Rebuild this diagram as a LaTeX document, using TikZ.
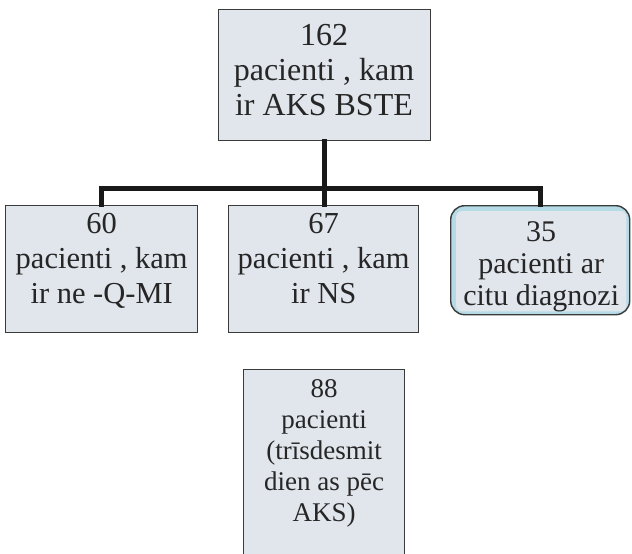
\documentclass[tikz,border=0pt]{standalone}
\usepackage{fontspec}
\setmainfont{Liberation Serif}
\definecolor{boxfill}{HTML}{E1E5EC}
\definecolor{boxline}{HTML}{3A3A3A}
\definecolor{band}{HTML}{B5DCE6}
\tikzset{
  box/.style={draw=boxline, line width=1.4pt, fill=boxfill, inner sep=0pt, minimum width=#1},
  txt/.style={anchor=north, align=center, inner sep=0pt, text=black!85},
  conn/.style={line width=4.8pt, black!90, line cap=rect}
}
\begin{document}
\begin{tikzpicture}[x=1pt,y=1pt]
\useasboundingbox (0,0) rectangle (632,-554);
\fill[white] (0,0) rectangle (632,-554);
% boxes
\node[box=212pt, minimum height=131pt, anchor=north west] (top) at (218,-9) {};
\node[box=192pt, minimum height=127pt, anchor=north west] (b60) at (5,-205) {};
\node[box=190pt, minimum height=127pt, anchor=north west] (b67) at (228,-205) {};
\node[draw=boxline, line width=1.4pt, fill=band, rounded corners=14pt, inner sep=0pt,
      minimum width=179pt, minimum height=109pt, anchor=north west] (b35) at (450,-205) {};
\fill[boxfill, rounded corners=6pt] ([shift={(6,-6)}]b35.north west) rectangle ([shift={(-4,4)}]b35.south east);
\node[box=161pt, minimum height=190pt, anchor=north west] (b88) at (243,-369) {};
% texts
\node[txt, font=\fontsize{32}{35}\selectfont] (t162) at (324,-24) {162\\pacienti , kam\\ir AKS BSTE};
\node[txt, font=\fontsize{30.5}{35}\selectfont] (t60) at (b60.north |- 0,-213) {60\\pacienti , kam\\ir ne -Q-MI};
\node[txt, font=\fontsize{30.5}{35}\selectfont] (t67) at (b67.north |- 0,-213) {67\\pacienti , kam\\ir NS};
\node[txt, font=\fontsize{30}{32}\selectfont] (t35) at ([xshift=1pt]b35.north |- 0,-221) {35\\pacienti ar\\citu diagnozi};
\node[txt, font=\fontsize{27}{31}\selectfont] (t88) at (b88.north |- 0,-379) {88\\pacienti\\(trīsdesmit\\dien as pēc\\AKS)};
% connectors
\coordinate (j) at ([yshift=-47pt]top.south);
\draw[conn] (top.south) -- (j);
\draw[conn] (j) -| (b60.north);
\draw[conn] (j) -| (b35.north);
\draw[conn] (j) -- (j |- b67.north);
\end{tikzpicture}
\end{document}
